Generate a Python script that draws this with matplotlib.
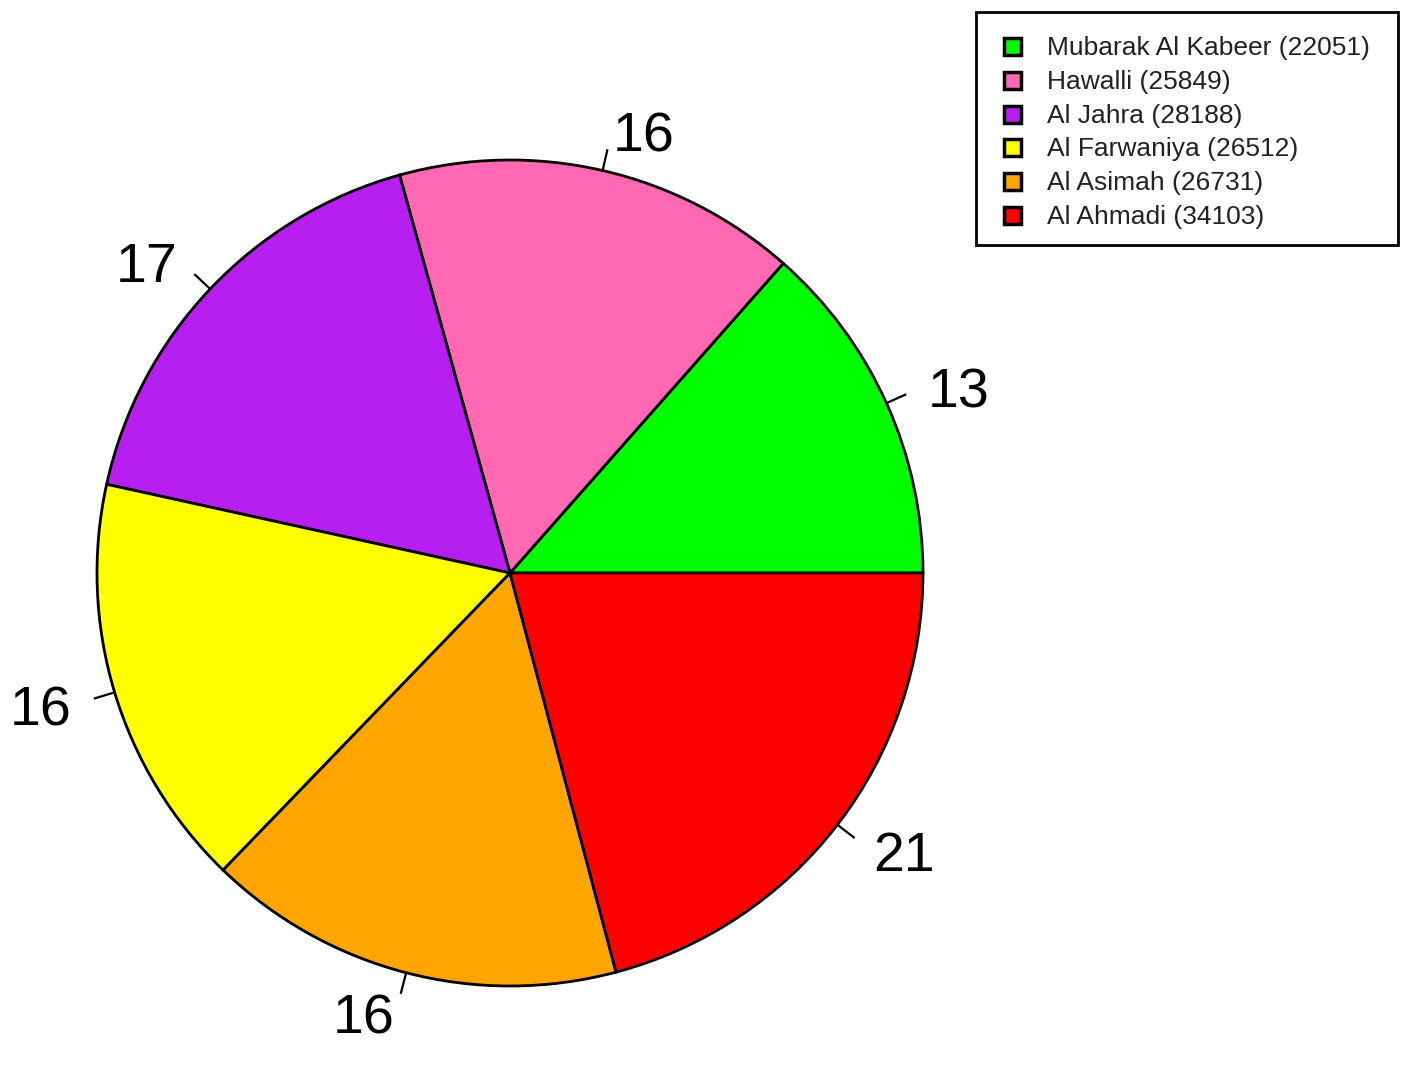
import numpy as np
import matplotlib.pyplot as plt
from matplotlib.patches import Rectangle

# ========== DONNÉES ==========
regions = ["Mubarak Al Kabeer", "Hawalli", "Al Jahra", "Al Farwaniya", "Al Asimah", "Al Ahmadi"]
counts = [22051, 25849, 28188, 26512, 26731, 34103]
colors = ["#00FF00", "#FF69B4", "#B71FF0", "#FFFF00", "#FFA500", "#FF0000"]

W, H = 1411, 1066
fig = plt.figure(figsize=(W / 100, H / 100), dpi=100)
ax = fig.add_axes([0, 0, 1, 1])

# pie centre / rayon en pixels (y vers le haut)
cx, cy, r = 510, H - 573, 413

ax.pie(counts, colors=colors, startangle=0, counterclock=True,
       center=(cx, cy), radius=r, frame=True,
       wedgeprops=dict(edgecolor="black", linewidth=2))

total = sum(counts)
pcts = [round(100 * c / total) for c in counts]

# étiquettes style R : petit trait puis texte
debut = 0.0
for c, p in zip(counts, pcts):
    ang = np.deg2rad(debut + 180 * c / total)
    debut += 360 * c / total
    ca, sa = np.cos(ang), np.sin(ang)
    ax.plot([cx + r * ca, cx + 1.05 * r * ca], [cy + r * sa, cy + 1.05 * r * sa],
            color="black", lw=1.6)
    ax.text(cx + 1.11 * r * ca, cy + 1.1 * r * sa - 7, str(p),
            ha="left" if ca > 0 else "right", va="center",
            fontsize=40, family="Liberation Sans")

# ========== LÉGENDE ==========
ax.add_patch(Rectangle((976, H - 245), 422, 233, fill=False, edgecolor="black", lw=2))
y0 = 47
for i, (nom, c, col) in enumerate(zip(regions, counts, colors)):
    y = H - (y0 + i * 33.8)
    ax.add_patch(Rectangle((1004, y - 8), 17, 17, facecolor=col, edgecolor="black", lw=2.5))
    ax.text(1047, y - 1, f"{nom} ({c})", ha="left", va="center",
            fontsize=19, family="Liberation Sans", color="#222222")

ax.set_xlim(0, W)
ax.set_ylim(0, H)
ax.set_aspect("auto")
ax.axis("off")

fig.savefig("out.png", dpi=100)
